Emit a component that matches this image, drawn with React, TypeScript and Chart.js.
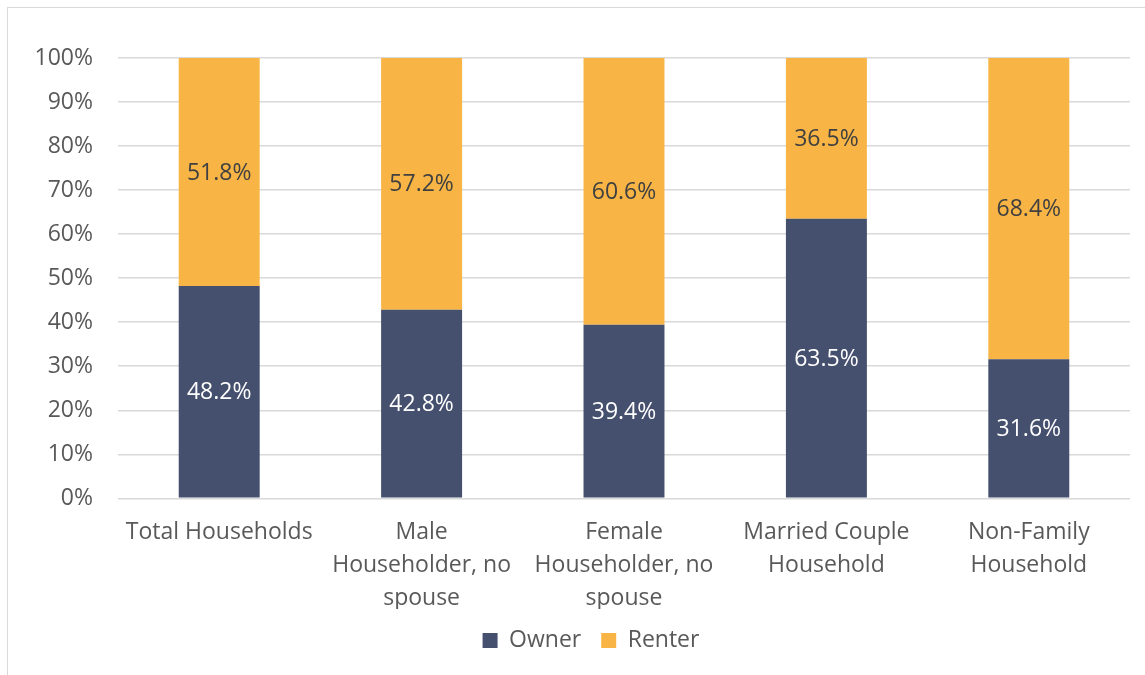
import React, { useEffect, useRef } from "react";
import { Chart, registerables } from "chart.js";

Chart.register(...registerables);

const categories: string[][] = [
  ["Total Households"],
  ["Male", "Householder, no", "spouse"],
  ["Female", "Householder, no", "spouse"],
  ["Married Couple", "Household"],
  ["Non-Family", "Household"],
];
const ownerValues = [48.2, 42.8, 39.4, 63.5, 31.6];
const renterValues = [51.8, 57.2, 60.6, 36.5, 68.4];
const yTicks = [0, 10, 20, 30, 40, 50, 60, 70, 80, 90, 100];

const FONT = "'Open Sans', sans-serif";
const OWNER = "#454f6e";
const RENTER = "#f8b545";
const LEGEND_SHIFT = 26;

const labelPlugin = {
  id: "segLabels",
  afterLayout(chart: any) {
    if (chart.legend) {
      chart.legend.left += LEGEND_SHIFT;
      chart.legend.right += LEGEND_SHIFT;
    }
  },
  afterDatasetsDraw(chart: any) {
    const ctx = chart.ctx;
    ctx.save();
    ctx.font = `23px ${FONT}`;
    ctx.textAlign = "center";
    ctx.textBaseline = "middle";
    chart.data.datasets.forEach((ds: any, di: number) => {
      const meta = chart.getDatasetMeta(di);
      meta.data.forEach((bar: any, i: number) => {
        const v = ds.data[i];
        const y = (bar.y + bar.base) / 2 + 1;
        ctx.fillStyle = di === 0 ? "#ffffff" : "#404040";
        ctx.fillText(v.toFixed(1) + "%", bar.x, y);
      });
    });
    ctx.restore();
  },
};

export default function App() {
  const ref = useRef<HTMLCanvasElement | null>(null);
  useEffect(() => {
    document.body.style.margin = "0";
    if (!ref.current) return;
    const chart = new Chart(ref.current, {
      type: "bar",
      data: {
        labels: categories,
        datasets: [
          { label: "Owner", data: ownerValues, backgroundColor: OWNER, barPercentage: 0.4, categoryPercentage: 1 },
          { label: "Renter", data: renterValues, backgroundColor: RENTER, barPercentage: 0.4, categoryPercentage: 1 },
        ],
      },
      options: {
        animation: false,
        responsive: false,
        maintainAspectRatio: false,
        layout: { padding: { left: 0, right: 15, top: 58, bottom: 13 } },
        scales: {
          x: {
            stacked: true,
            grid: { display: false },
            border: { display: false },
            afterFit: (scale: any) => {
              scale.height = scale.height - 16;
            },
            ticks: {
              color: "#595959",
              font: { family: FONT, size: 23, lineHeight: 1.43 },
              padding: 10,
              maxRotation: 0,
              autoSkip: false,
            },
          },
          y: {
            stacked: true,
            min: 0,
            max: 100,
            afterBuildTicks: (scale: any) => {
              scale.ticks = yTicks.map((v) => ({ value: v }));
            },
            afterFit: (scale: any) => {
              scale.width = 118;
            },
            grid: { color: "#d9d9d9", lineWidth: 1.5, drawTicks: false },
            border: { display: false },
            ticks: {
              color: "#595959",
              font: { family: FONT, size: 23 },
              padding: 25,
              callback: (v: any) => v + "%",
            },
          },
        },
        plugins: {
          legend: {
            position: "bottom",
            labels: {
              color: "#595959",
              font: { family: FONT, size: 23 },
              boxWidth: 15,
              boxHeight: 15,
              padding: 20,
            },
          },
          tooltip: { enabled: false },
        },
      },
      plugins: [labelPlugin],
    });
    return () => chart.destroy();
  }, []);
  return (
    <div style={{ position: "relative", width: 1145, height: 675, overflow: "hidden", background: "#fff" }}>
      <canvas ref={ref} width={1145} height={675} style={{ position: "absolute", left: 0, top: 0 }} />
      <div
        style={{
          position: "absolute",
          left: 7,
          top: 7,
          width: 1145,
          height: 675,
          borderLeft: "1.5px solid #d9d9d9",
          borderTop: "1.5px solid #d9d9d9",
          pointerEvents: "none",
        }}
      />
    </div>
  );
}
